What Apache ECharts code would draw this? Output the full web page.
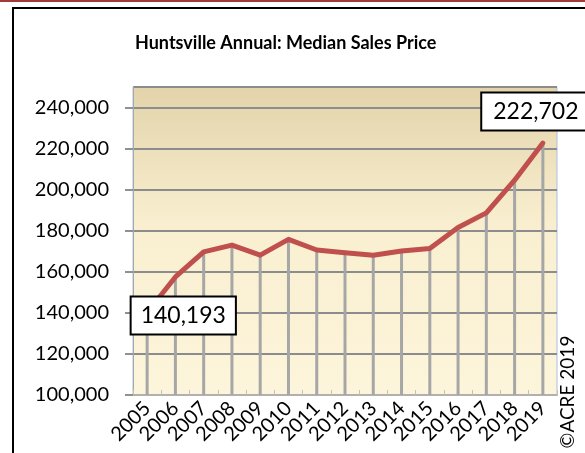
<!DOCTYPE html>
<html><head><meta charset="utf-8">
<script src="https://cdn.jsdelivr.net/npm/echarts@6/dist/echarts.min.js"></script>
<style>html,body{margin:0;padding:0;background:#fff}#c{width:585px;height:453px}</style>
</head><body><div id="c"></div>
<script>
const years = ['2005','2006','2007','2008','2009','2010','2011','2012','2013','2014','2015','2016','2017','2018','2019'];
const medianPrice = [140193,157500,169700,173000,168100,175800,170600,169300,168100,170100,171400,181600,188700,204600,222702];
const yTicks = {min:100000, max:250000, interval:20000};
const titleText = 'Huntsville Annual: Median Sales Price';
const copyright = '©ACRE 2019';
const labelled = [0, 14];

const fmt = v => v.toLocaleString('en-US');
const chart = echarts.init(document.getElementById('c'));
const FONT = 'Lato';
const lineData = medianPrice.map((v,i) => {
  if (!labelled.includes(i)) return v;
  const first = i === 0;
  return {value:v, label:{show:true, formatter: p => fmt(p.value),
    position: first ? 'right' : 'top', distance: first ? 0 : 13,
    offset: first ? [-16, 3] : [-7, 0],
    fontFamily:FONT, fontSize:23, color:'#000', backgroundColor:'#fff',
    borderColor:'#000', borderWidth:2, padding: first ? [7,9,6,9] : [7,11,6,11]}};
});
chart.setOption({
  animation:false,
  title:{text:titleText, left:130, top:29, textStyle:{fontFamily:FONT, fontSize:18, fontWeight:'bold', color:'#000'}},
  grid:{left:133, right:28, top:87, bottom:58, show:true, borderColor:'#a9c1e3', borderWidth:1,
    backgroundColor:new echarts.graphic.LinearGradient(0,0,0,1,[
      {offset:0,color:'#e2d3aa'},{offset:0.45,color:'#f9efd0'},{offset:1,color:'#fdf5db'}])},
  xAxis:{type:'category', data:years, boundaryGap:true,
    axisLine:{lineStyle:{color:'#b0b0b0', width:2}},
    axisTick:{show:true, inside:true, length:5, lineStyle:{color:'#c8c0a8'}},
    axisLabel:{rotate:45, margin:10, fontFamily:FONT, fontSize:20, color:'#000', interval:0},
    splitLine:{show:false}},
  yAxis:{type:'value', min:yTicks.min, max:yTicks.max, interval:yTicks.interval,
    axisLine:{show:true, lineStyle:{color:'#a8a8a8', width:1}},
    axisTick:{show:true, length:8, lineStyle:{color:'#909090', width:2}},
    axisLabel:{margin:24, fontFamily:FONT, fontSize:20, color:'#000', showMaxLabel:false, formatter: v => fmt(v)},
    splitLine:{lineStyle:{color:'#8c8c8c', width:2}}},
  series:[
    {type:'bar', data:medianPrice, barWidth:3, itemStyle:{color:'#a6a6a6'}, silent:true, z:2},
    {type:'line', data:lineData, symbol:'circle', symbolSize:1, showSymbol:true,
      lineStyle:{color:'#c0504d', width:5, cap:'round', join:'round'}, itemStyle:{color:'#c0504d'}, z:3}
  ],
  graphic:[
    {type:'rect', shape:{x:0,y:0,width:585,height:2}, style:{fill:'#a33a3a'}, silent:true},
    {type:'rect', shape:{x:13,y:8,width:600,height:460}, style:{fill:null, stroke:'#000', lineWidth:2}, silent:true},
    {type:'text', x:568, y:392, rotation:Math.PI/2, style:{text:copyright, fontFamily:FONT, fontSize:19, fill:'#000', align:'center', verticalAlign:'middle'}, silent:true}
  ]
});
</script></body></html>
